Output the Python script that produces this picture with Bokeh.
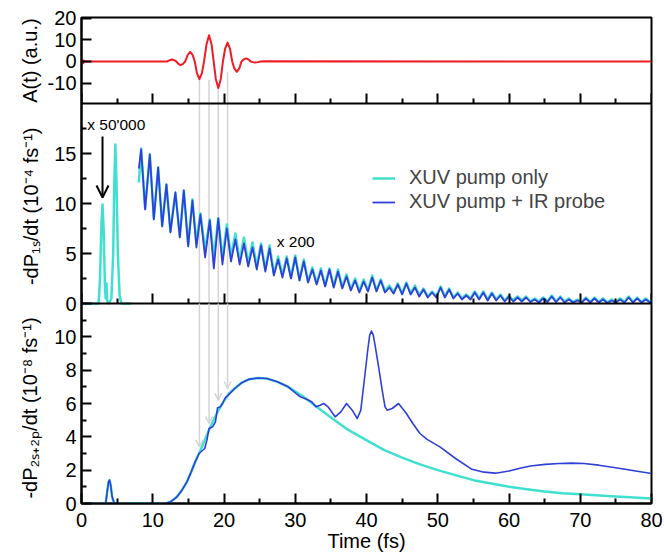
from bokeh.plotting import figure
from bokeh.models import (Range1d, FixedTicker, LinearAxis, Legend, LegendItem,
                          Label, Arrow, OpenHead, ColumnDataSource, CustomLabelingPolicy,
                          CustomJSTickFormatter)
from bokeh.embed import file_html
from bokeh.resources import INLINE

# ---------------- data ----------------
x_ticks = [0, 10, 20, 30, 40, 50, 60, 70, 80]
x_minor = [5, 15, 25, 35, 45, 55, 65, 75]

top_ticks = [-10, 0, 10, 20]
mid_ticks = [0, 5, 10, 15]
mid_minor = [2.5, 7.5, 12.5, 17.5]
bot_ticks = [0, 2, 4, 6, 8, 10]
bot_minor = [1, 3, 5, 7, 9, 11]

titles = ["A(t) (a.u.)",
          "-dP\u2081\u209b/dt  (10\u207b\u2074 fs\u207b\u00b9)",
          "-dP\u2082\u209b\u208a\u2082\u209a/dt  (10\u207b\u2078 fs\u207b\u00b9)"]

# top panel: vector potential A(t)
A_t = [0, 0.12, 0.25, 0.4, 0.6, 12.0, 12.4, 12.7, 13.0, 13.3,
       13.6, 13.9, 14.25, 14.55, 14.9, 15.25, 15.6, 15.9, 16.2, 16.55,
       16.9, 17.2, 17.55, 17.9, 18.25, 18.55, 18.85, 19.2, 19.55, 19.85,
       20.15, 20.5, 20.85, 21.15, 21.45, 21.8, 22.15, 22.45, 22.75, 23.1,
       23.45, 23.75, 24.05, 24.4, 24.75, 25.1, 25.6, 80]
A_v = [0, 1.0, -0.8, 0.3, 0, 0, 0.6, 0.9, 0.6, 0,
       -1.1, -1.7, -1.1, 0, 3.0, 4.5, 3.0, 0, -5.4, -8.2,
       -5.4, 0, 8.0, 12.2, 8.0, 0, -8.1, -12.3, -8.1, 0,
       5.8, 8.8, 5.8, 0, -3.2, -4.8, -3.2, 0, 0.9, 1.4,
       0.9, 0, -0.3, -0.5, -0.3, 0, 0.1, 0]

# middle panel: early XUV-only part (x 50'000)
E_t = [0, 2.4, 2.6, 2.8, 2.95, 3.1, 3.3, 3.4, 3.5, 3.6,
       3.8, 4.2, 4.45, 4.6, 4.75, 4.9, 5.1, 5.35, 5.6, 7.0]
E_v = [0, 0, 2.5, 8.0, 9.9, 7.5, 1.5, 0.5, 2.0, 0.3,
       0, 0.5, 5.0, 12.0, 15.9, 12.5, 5.0, 0.8, 0, 0]

# middle panel: x 200 part (extrema of the oscillation)
M_t = [8.05, 8.37, 8.93, 9.59, 10.15, 10.76, 11.32, 11.92, 12.48, 13.18,
       13.8, 14.36, 14.97, 15.57, 16.13, 16.69, 17.35, 18.0, 18.57, 19.2,
       19.78, 20.4, 20.98, 21.6, 22.2, 22.8, 23.4, 24.0, 24.6, 25.2,
       25.8, 26.4, 27.0, 27.6, 28.2, 28.8, 29.4, 30.0, 30.6, 31.2,
       31.8, 32.4, 33.0, 33.6, 34.2, 34.8, 35.4, 36.0, 36.6, 37.2,
       37.8, 38.4, 39.0, 39.6, 40.2, 40.8, 41.4, 42.0, 42.6, 43.2,
       43.8, 44.4, 45.0, 45.6, 46.2, 46.8, 47.4, 48.0, 48.6, 49.2,
       49.8, 50.4, 51.0, 51.6, 52.2, 52.8, 53.4, 54.0, 54.6, 55.2,
       55.8, 56.4, 57.0, 57.6, 58.2, 58.8, 59.4, 60.0, 60.6, 61.2,
       61.8, 62.4, 63.0, 63.6, 64.2, 64.8, 65.4, 66.0, 66.6, 67.2,
       67.8, 68.4, 69.0, 69.6, 70.2, 70.8, 71.4, 72.0, 72.6, 73.2,
       73.8, 74.4, 75.0, 75.6, 76.2, 76.8, 77.4, 78.0, 78.6, 79.2,
       79.8, 80.0]
M_blue = [13.5, 15.4, 9.4, 14.9, 8.4, 13.6, 7.7, 11.9, 7.1, 11.1,
          6.6, 11.3, 5.7, 10.3, 5.6, 8.9, 4.6, 8.3, 3.5, 8.5,
          3.9, 7.5, 4.2, 6.4, 3.9, 6.0, 3.7, 5.6, 3.4, 5.8,
          3.2, 5.5, 2.8, 4.4, 2.6, 4.5, 2.5, 4.6, 2.3, 4.2,
          2.1, 3.4, 1.9, 3.3, 1.7, 3.4, 1.6, 3.2, 1.5, 2.7,
          1.3, 2.3, 1.1, 2.2, 1.2, 2.6, 1.2, 2.3, 1.1, 1.6,
          1.0, 1.9, 0.9, 2.0, 0.9, 1.6, 0.7, 1.4, 0.6, 1.1,
          0.6, 1.6, 0.6, 1.4, 0.5, 1.0, 0.4, 0.8, 0.4, 1.1,
          0.4, 1.1, 0.3, 1.0, 0.3, 0.8, 0.2, 0.7, 0.2, 0.6,
          0.2, 0.6, 0.15, 0.4, 0.1, 0.5, 0.15, 0.7, 0.15, 0.6,
          0.1, 0.4, 0.1, 0.3, 0.1, 0.5, 0.1, 0.5, 0.1, 0.4,
          0.05, 0.3, 0.1, 0.4, 0.1, 0.6, 0.1, 0.5, 0.1, 0.4,
          0.1, 0.2]
M_cyan = [12.1, 15.5, 9.5, 14.9, 8.5, 13.6, 7.8, 11.9, 7.2, 11.1,
          6.7, 11.3, 5.9, 10.4, 6.0, 9.0, 5.3, 8.4, 4.6, 8.5,
          4.5, 7.9, 4.7, 7.0, 4.3, 6.6, 4.0, 6.1, 3.7, 6.0,
          3.4, 5.8, 3.0, 4.7, 2.8, 4.7, 2.6, 4.8, 2.4, 4.4,
          2.2, 3.6, 2.0, 3.5, 1.8, 3.5, 1.7, 3.4, 1.6, 2.9,
          1.4, 2.5, 1.2, 2.4, 1.3, 2.8, 1.3, 2.4, 1.2, 1.8,
          1.1, 2.0, 1.0, 2.1, 1.0, 1.8, 0.8, 1.5, 0.7, 1.2,
          0.7, 1.7, 0.7, 1.5, 0.6, 1.1, 0.5, 0.9, 0.5, 1.2,
          0.5, 1.2, 0.4, 1.1, 0.4, 0.9, 0.3, 0.8, 0.3, 0.7,
          0.3, 0.7, 0.2, 0.5, 0.2, 0.6, 0.2, 0.8, 0.2, 0.7,
          0.2, 0.5, 0.15, 0.4, 0.15, 0.6, 0.15, 0.6, 0.15, 0.5,
          0.1, 0.4, 0.15, 0.5, 0.15, 0.7, 0.15, 0.6, 0.15, 0.5,
          0.15, 0.3]

# bottom panel
B_t_cyan = [0, 3.4, 3.6, 3.8, 3.93, 4.1, 4.3, 4.6, 11.8, 12.5,
            13.4, 14.1, 14.8, 15.4, 15.96, 16.7, 17.5, 18.3, 19.1, 19.9,
            20.7, 21.5, 22.5, 23.5, 24.8, 26.0, 27.5, 29.0, 31.0, 33.0,
            35.2, 37.5, 39.8, 42.5, 45.0, 47.5, 50.0, 52.5, 55.0, 57.5,
            60.0, 62.5, 65.0, 67.5, 70.0, 75.0, 80.0]
B_v_cyan = [0, 0, 0.7, 1.3, 1.4, 1.1, 0.4, 0, 0, 0.1,
            0.4, 0.8, 1.3, 1.9, 2.5, 3.2, 4.0, 4.8, 5.5, 6.1,
            6.6, 6.9, 7.25, 7.45, 7.53, 7.5, 7.3, 7.0, 6.45, 5.8,
            5.1, 4.4, 3.85, 3.2, 2.75, 2.35, 2.0, 1.7, 1.4, 1.2,
            1.0, 0.85, 0.72, 0.62, 0.55, 0.42, 0.3]
B_t_blue = [0, 3.4, 3.6, 3.8, 3.93, 4.1, 4.3, 4.6, 11.8, 12.5,
            13.4, 14.1, 14.8, 15.4, 15.96, 16.5, 16.9, 17.3, 17.6, 17.9,
            18.4, 18.8, 19.1, 19.5, 19.8, 20.2, 20.6, 21.5, 22.5, 23.5,
            24.8, 26.0, 27.5, 29.0, 30.7, 31.6, 32.3, 32.9, 33.5, 34.0,
            34.6, 35.6, 36.4, 37.2, 38.0, 38.7, 39.2, 39.8, 40.2, 40.45,
            40.7, 40.95, 41.2, 41.7, 42.2, 42.6, 42.9, 43.6, 44.5, 45.6,
            46.5, 47.5, 48.5, 50.3, 52.5, 54.8, 56.5, 58.1, 60.0, 61.4,
            63.0, 65.1, 67.0, 68.8, 70.5, 72.6, 74.5, 76.3, 78.0, 80.0]
B_v_blue = [0, 0, 0.7, 1.3, 1.4, 1.1, 0.4, 0, 0, 0.1,
            0.4, 0.8, 1.3, 1.9, 2.5, 3.0, 3.15, 3.3, 3.8, 4.5,
            4.6, 4.9, 5.75, 5.8, 6.0, 6.35, 6.5, 6.9, 7.25, 7.45,
            7.53, 7.5, 7.3, 7.0, 6.4, 6.25, 6.1, 5.8, 5.9, 6.0,
            5.8, 5.2, 5.5, 6.0, 5.6, 5.1, 5.6, 7.8, 9.3, 10.1,
            10.35, 10.1, 9.5, 8.2, 6.8, 5.8, 5.6, 5.7, 6.0, 5.4,
            4.8, 4.2, 3.85, 3.4, 2.7, 2.05, 1.88, 1.82, 1.95, 2.1,
            2.25, 2.35, 2.4, 2.42, 2.4, 2.3, 2.18, 2.05, 1.93, 1.8]

# grey guide arrows (times, start in top panel, tip in bottom panel)
G_t = [16.55, 17.9, 19.2, 20.5]
G_start = [-8.2, -8.5, -12.3, -5.0]
G_tip = [3.4, 4.8, 6.2, 6.9]

assert len(A_t) == len(A_v)
assert len(E_t) == len(E_v)
assert len(M_t) == len(M_blue) == len(M_cyan)
assert len(B_t_cyan) == len(B_v_cyan)
assert len(B_t_blue) == len(B_v_blue)

# ---------------- layout / styling ----------------
FONT = "Liberation Sans"
RED = "#ee1c25"
CYAN = "#40e0d0"
BLUE = "#2f3fd8"
GREY = "#d4d4d4"

# one frame of 486 px: top panel 86 px, middle 200 px, bottom 200 px
TOP_LO, TOP_HI = -19.5, 20.4
B23, B12, TOP = 12.0, 24.0, 29.16                  # boundaries in bottom-panel units
R2 = (-20.0, 28.6)                                 # middle panel units
R1 = (TOP_LO - (TOP_HI - TOP_LO) * 400 / 86, TOP_HI)  # top panel units


def mid_to_base(v):
    return B23 + v * (B12 - B23) / 20.0


def top_to_base(v):
    return B12 + (v - TOP_LO) * (TOP - B12) / (TOP_HI - TOP_LO)


p = figure(frame_width=570, frame_height=486, x_range=Range1d(0, 80), y_range=Range1d(0, TOP),
           output_backend="svg", toolbar_location=None,
           min_border_left=81, min_border_right=13, min_border_top=17, min_border_bottom=30)
p.extra_y_ranges = {"p1": Range1d(*R1), "p2": Range1d(*R2)}
p.xgrid.visible = False
p.ygrid.visible = False
p.outline_line_color = "black"
p.outline_line_width = 2
p.background_fill_color = "white"
p.border_fill_color = "white"


def style(ax, tin=10, tout=0, mtin=5, mtout=0):
    ax.axis_line_width = 2
    ax.axis_line_color = "black"
    ax.major_tick_in = tin
    ax.major_tick_out = tout
    ax.minor_tick_in = mtin
    ax.minor_tick_out = mtout
    ax.major_tick_line_width = 2
    ax.minor_tick_line_width = 2
    ax.major_label_text_font = FONT
    ax.major_label_text_font_size = "20px"
    ax.major_label_text_color = "black"
    ax.axis_label_text_font = FONT
    ax.axis_label_text_font_size = "20px"
    ax.axis_label_text_font_style = "normal"
    ax.axis_label_text_color = "black"


NEAREST = """
let best = 0;
for (let i = 0; i < pos.length; i++) {
  if (Math.abs(pos[i] - tick) < Math.abs(pos[best] - tick)) best = i;
}
return labs[best];
"""

# bottom x axis with labels
xa = p.xaxis[0]
xa.ticker = FixedTicker(ticks=x_ticks, minor_ticks=x_minor)
style(xa)
xa.major_label_standoff = 9
xa.axis_label = "Time (fs)"
xa.axis_label_standoff = 0

# tick rows at the bottom edges of the upper two panels (ticks point up, no labels)
for loc in [B23, B12]:
    ax = LinearAxis(ticker=FixedTicker(ticks=x_ticks, minor_ticks=x_minor),
                    fixed_location=loc,
                    major_label_policy=CustomLabelingPolicy(code="return []"))
    style(ax)
    p.add_layout(ax, "below")

# one left axis carrying the ticks of all three panels
y_pos = ([float(v) for v in bot_ticks] + [mid_to_base(v) for v in mid_ticks]
         + [top_to_base(v) for v in top_ticks])
y_lab = [str(v) for v in bot_ticks] + [str(v) for v in mid_ticks] + [str(v) for v in top_ticks]
y_minor = [float(v) for v in bot_minor] + [mid_to_base(v) for v in mid_minor]
ya = p.yaxis[0]
ya.ticker = FixedTicker(ticks=y_pos, minor_ticks=y_minor)
ya.formatter = CustomJSTickFormatter(args=dict(pos=y_pos, labs=y_lab), code=NEAREST)
style(ya)
ya.major_label_standoff = 5

# a second left axis that only carries the three panel titles
t_pos = [top_to_base(0.4), mid_to_base(10.0), 5.9]
ta = LinearAxis(ticker=FixedTicker(ticks=t_pos, minor_ticks=[]),
                formatter=CustomJSTickFormatter(args=dict(pos=t_pos, labs=titles), code=NEAREST),
                major_label_orientation="vertical")
style(ta, 0, 0, 0, 0)
ta.axis_line_color = None
ta.major_tick_line_color = None
ta.minor_tick_line_color = None
ta.major_label_standoff = 3
p.add_layout(ta, "left")

# ---- grey guide lines ----
p.segment(x0=G_t, y0=G_start, x1=G_t, y1=[TOP_LO] * len(G_t), y_range_name="p1",
          line_color=GREY, line_width=1.5)
p.segment(x0=G_t, y0=[0] * len(G_t), x1=G_t, y1=[20] * len(G_t), y_range_name="p2",
          line_color=GREY, line_width=1.5)
gsrc = ColumnDataSource(dict(xs=G_t, ys=[12] * len(G_t), xe=G_t, ye=G_tip))
p.add_layout(Arrow(source=gsrc, x_start="xs", y_start="ys", x_end="xe", y_end="ye",
                   line_color=GREY, line_width=1.5,
                   end=OpenHead(size=7, line_color=GREY, line_width=1.5)))

# ---- top panel ----
p.line(A_t, A_v, y_range_name="p1", line_color=RED, line_width=2, line_join="round")

# ---- middle panel ----
p.line(E_t, E_v, y_range_name="p2", line_color=CYAN, line_width=2.5, line_join="round")
r_cyan = p.line(M_t, M_cyan, y_range_name="p2", line_color=CYAN, line_width=2.5,
                line_join="round")
r_blue = p.line(M_t, M_blue, y_range_name="p2", line_color=BLUE, line_width=1.8,
                line_join="round")
p.add_layout(Arrow(y_range_name="p2", end=OpenHead(size=12, line_width=2, line_color="black"),
                   x_start=2.95, y_start=16.7, x_end=2.95, y_end=10.6,
                   line_width=2, line_color="black"))
p.add_layout(Label(x=0.8, y=17.9, y_range_name="p2", text="x 50'000", text_font=FONT,
                   text_font_size="15.5px", text_baseline="middle", text_color="black"))
p.add_layout(Label(x=27.4, y=6.2, y_range_name="p2", text="x 200", text_font=FONT,
                   text_font_size="15.5px", text_baseline="middle", text_color="black"))
legend = Legend(items=[LegendItem(label="XUV pump only", renderers=[r_cyan]),
                       LegendItem(label="XUV pump + IR probe", renderers=[r_blue])],
                location=(291, 290), padding=0, margin=0, spacing=1,
                glyph_width=23, glyph_height=22, label_height=22, label_standoff=14,
                label_text_font=FONT, label_text_font_size="20px",
                border_line_alpha=0, background_fill_alpha=0)
p.add_layout(legend)

# ---- bottom panel ----
p.line(B_t_cyan, B_v_cyan, line_color=CYAN, line_width=2.5, line_join="round")
p.line(B_t_blue, B_v_blue, line_color=BLUE, line_width=1.6, line_join="round")

open("out.html", "w").write(file_html(p, INLINE))
